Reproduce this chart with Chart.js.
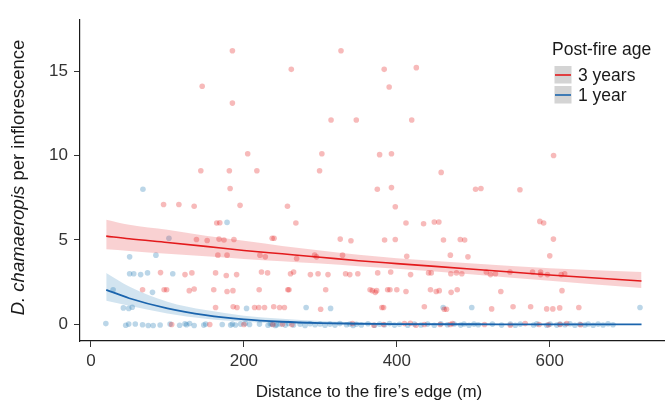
<!DOCTYPE html>
<html>
<head>
<meta charset="utf-8">
<script src="https://cdn.jsdelivr.net/npm/chart.js@4"></script>
<style>
html,body{margin:0;padding:0;background:#fff;}
#wrap{width:668px;height:404px;position:relative;}
</style>
</head>
<body>
<div id="wrap"><canvas id="c" width="668" height="404"></canvas></div>
<script>
// ---- data ----
const xTicks = [0, 200, 400, 600];
const yTicks = [0, 5, 10, 15];
const legendTitle = "Post-fire age";
const seriesNames = ["3 years", "1 year"];

// observations: [distance, count]
const threeYearPts = [
  [185,16.2],[327,16.2],
  [262,15.1],[383.5,15.1],[425.5,15.2],
  [145.5,14.1],[390,14.05],
  [185,13.1],
  [314,12.1],[347,12.1],[419.5,12.1],
  [205,10.1],[302,10.1],[377.5,10.05],[393,10.1],[605,10.0],
  [143.7,9.1],[181,9.1],[217,9.1],[299,9.1],[458,9.0],
  [182,8.05],[374.5,8.0],[393,8.1],[503,8.0],[510,8.05],[561,7.97],
  [95,7.1],[115,7.1],[135,7.0],[195,7.05],[257,7.0],[398,6.97],
  [164.5,6.0],[168.5,6.02],[268,6.0],[412,6.0],[435,5.96],[449,6.06],[455,6.06],[587,6.1],[592,6.0],
  [138,5.03],[152,4.97],[167.5,5.05],[174,5.0],[187,5.03],[237,5.1],[239.5,5.1],[326,5.05],[340,4.95],
  [384,5.0],[398,5.03],[461,5.0],[483,5.03],[488.7,5.0],[604.8,5.05],
  [166,4.1],[178,4.1],[221,4.1],[228,4.0],[269,3.9],[292.6,4.1],[295,4.0],[329,4.1],[413,4.04],[470,4.1],[493,4.0],[600,4.06],
  [91,3.07],[123,2.95],[132,3.05],[163,3.05],[177,2.9],[190.5,2.95],[223,3.1],[231,3.05],[261,3.0],[265,3.1],
  [287,2.95],[297,3.0],[310,2.95],[333,3.0],[338.5,2.95],[349,3.0],[375,3.05],[392,3.1],[418,2.95],[441.5,3.05],
  [445,3.05],[470.6,3.0],[478,3.05],[485,3.0],[517,3.1],[522.5,2.95],[529,3.0],[548,3.1],[577.5,3.1],[588,3.1],
  [588,2.95],[597,2.95],[615,2.95],[619.5,3.0],
  [67.5,2.05],[95.7,2.05],[99,2.05],[128.6,2.0],[135,2.1],[160.6,2.05],[178,1.95],[185.7,2.0],[220,2.05],[257.5,2.05],
  [259,2.05],[307,2.05],[365,2.05],[368,2.0],[371.8,1.9],[373.6,2.0],[388,2.05],[391,2.05],[400,2.05],[412,1.95],
  [444,2.05],[451.5,1.95],[455.5,2.0],[471,1.9],[479,2.05],[536,1.95],[616,2.0],
  [163,1.0],[186,1.05],[191,1.0],[214,1.0],[219.5,1.0],[227,1.0],[239,1.05],[246.7,1.0],[253,1.0],[300.4,0.9],
  [380.5,1.0],[382.7,1.0],[436,1.05],[462,0.9],[465,0.9],[524,0.92],[552,1.05],[575,1.05],[596,0.92],[604,0.92],
  [613,0.98],[638,1.0],
  [105.6,0.0],[155.4,0.0],[200,0.0],[238,0.0],[250.6,0.02],[262.8,0.0],[342,0.05],[370,-0.05],[382.7,0.0],[410,0.05],
  [417.8,0.07],[425,-0.05],[436,0.0],[456.7,0.0],[469.7,0.0],[472.7,0.05],[514.7,0.0],[548.4,-0.05],[567.9,0.05],
  [586.1,0.0],[598.3,-0.02],[613.4,0.0],[622.1,0.05],[640.3,-0.02]
];

const oneYearPts = [
  [68,8.0],[178,6.04],[102,5.1],[50.6,4.0],[85,4.1],
  [50.6,3.0],[56,3.0],[65,2.95],[74,3.05],[107,3.0],
  [29,2.05],[80.5,1.9],
  [42.4,0.98],[49.4,0.95],[54,1.02],[203.5,0.95],[281.4,1.0],[313.4,0.95],[460.6,1.0],[498,1.0],[718,1.0],
  [19.5,0.05],[45.5,-0.05],[49.4,0.02],[58,0.03],[67.5,-0.02],[75,-0.06],[81.4,-0.06],[90.5,-0.03],[103.5,0.02],
  [116,-0.05],[123,0.04],[125,-0.02],[129,0.05],[135,-0.06],[147.6,-0.04],[150,0.03],[171.7,0.0],[182.7,-0.04],
  [185,0.03],[189,-0.03],[195.7,0.02],[202,0.05],[207.4,0.0],[220.4,0.02],[231.6,-0.05],[234.6,0.04],[242.9,-0.02],
  [236.8,0.02],[241.2,-0.06],[247.7,0.03],[254.2,-0.04],[258.4,0.05],[264.9,-0.03],[273.6,0.01],[280,-0.06],
  [286.6,0.04],[293.1,-0.02],[299.6,0.03],[306.1,-0.05],[312.6,0.02],[319.1,-0.04],[325.6,0.05],[334.2,-0.02],
  [338.6,0.03],[342.9,-0.06],[347.1,0.01],[353.6,-0.03],[362.3,0.04],[371,-0.05],[377.5,0.02],[384,-0.02],
  [390.5,0.05],[397,-0.04],[403.5,0.01],[414.3,-0.05],[423,0.03],[431.6,-0.03],[440.3,0.02],[449,-0.05],
  [457.5,0.04],[466.2,-0.02],[474.9,0.03],[483.5,-0.04],[487.9,0.03],[494.4,-0.05],[500.9,0.02],[506.5,-0.02],
  [525,0.02],[537,-0.04],[548.4,0.03],[554.9,-0.05],[561.4,0.02],[578.8,-0.03],[583.1,0.04],[596.1,-0.05],
  [600.4,0.02],[609.1,-0.04],[613.4,0.03],[619.9,-0.02],[626.4,0.04],[632.9,-0.05],[639.4,0.01],[645.9,-0.03],
  [650.3,0.03],[656.8,-0.05],[663.2,0.02],[669.7,-0.03],[676.2,0.04],[682.7,-0.02]
];

// fitted curves and confidence bands
const fitX    = [20, 50, 100, 150, 200, 250, 300, 350, 400, 500, 600, 720];
const redFit  = [5.23, 5.07, 4.85, 4.62, 4.38, 4.18, 3.98, 3.77, 3.60, 3.27, 2.93, 2.57];
const redHi   = [6.20, 5.90, 5.60, 5.25, 4.95, 4.65, 4.38, 4.12, 3.92, 3.60, 3.33, 3.10];
const redLo   = [4.45, 4.35, 4.18, 4.03, 3.88, 3.74, 3.60, 3.45, 3.30, 2.96, 2.58, 2.15];
const blueFit = [2.05, 1.55, 0.95, 0.55, 0.30, 0.16, 0.08, 0.04, 0.02, 0.01, 0.00, 0.00];
const blueHi  = [3.05, 2.25, 1.35, 0.85, 0.52, 0.33, 0.20, 0.12, 0.07, 0.03, 0.02, 0.01];
const blueLo  = [1.40, 1.10, 0.65, 0.33, 0.16, 0.07, 0.03, 0.01, 0.00, 0.00, 0.00, 0.00];

// ---- styling ----
const RED = '#e31a1c', BLUE = '#1a64ad';
const FONT = "'Liberation Sans', Arial, Helvetica, sans-serif";
const FS = 17;
const toXY = (xs, ys) => xs.map((x, i) => ({x: x, y: ys[i]}));
const ptsXY = arr => arr.map(p => ({x: p[0], y: p[1]}));

const lineDs = (data, color, w, order) => ({
  type: 'line', data: data, borderColor: color, borderWidth: w, pointRadius: 0,
  fill: false, cubicInterpolationMode: 'monotone', order: order
});
const bandHi = (data, fillColor, target, order) => ({
  type: 'line', data: data, borderWidth: 0, borderColor: 'rgba(0,0,0,0)', pointRadius: 0,
  backgroundColor: fillColor, fill: target, cubicInterpolationMode: 'monotone', order: order
});
const bandLo = (data, order) => ({
  type: 'line', data: data, borderWidth: 0, borderColor: 'rgba(0,0,0,0)', pointRadius: 0,
  fill: false, cubicInterpolationMode: 'monotone', order: order
});

const datasets = [
  lineDs(toXY(fitX, redFit), RED, 1.6, 0),          // 0
  lineDs(toXY(fitX, blueFit), BLUE, 1.8, 0),        // 1
  bandHi(toXY(fitX, redHi), 'rgba(227,26,28,0.2)', 3, 1),   // 2
  bandLo(toXY(fitX, redLo), 1),                      // 3
  bandHi(toXY(fitX, blueHi), 'rgba(31,120,180,0.2)', 5, 1), // 4
  bandLo(toXY(fitX, blueLo), 1),                     // 5
  {type: 'scatter', data: ptsXY(threeYearPts), backgroundColor: 'rgba(227,26,28,0.3)', borderWidth: 0, pointRadius: 2.8, order: 2},
  {type: 'scatter', data: ptsXY(oneYearPts), backgroundColor: 'rgba(31,120,180,0.3)', borderWidth: 0, pointRadius: 2.8, order: 2}
];

const overlay = {
  id: 'overlay',
  afterDraw(chart) {
    const ctx = chart.ctx;
    const ca = chart.chartArea;
    ctx.save();
    // x title
    ctx.fillStyle = '#1a1a1a';
    ctx.font = FS + 'px ' + FONT;
    ctx.textAlign = 'center';
    ctx.textBaseline = 'middle';
    ctx.fillText('Distance to the fire\u2019s edge (m)', 369, 392);
    // y title (mixed italic)
    const YFS = 18.5;
    ctx.save();
    ctx.translate(19, (ca.top + ca.bottom) / 2 - 3);
    ctx.rotate(-Math.PI / 2);
    const p1 = 'D. chamaeropis', p2 = ' per inflorescence';
    ctx.font = 'italic ' + YFS + 'px ' + FONT;
    const w1 = ctx.measureText(p1).width;
    ctx.font = YFS + 'px ' + FONT;
    const w2 = ctx.measureText(p2).width;
    const start = -(w1 + w2) / 2;
    ctx.textAlign = 'left';
    ctx.font = 'italic ' + YFS + 'px ' + FONT;
    ctx.fillText(p1, start, 0);
    ctx.font = YFS + 'px ' + FONT;
    ctx.fillText(p2, start + w1, 0);
    ctx.restore();
    // legend
    ctx.textAlign = 'left';
    ctx.font = '17.5px ' + FONT;
    ctx.fillStyle = '#1a1a1a';
    ctx.fillText(legendTitle, 552, 50);
    const keys = [[RED, 66], [BLUE, 86]];
    keys.forEach((k, i) => {
      ctx.fillStyle = '#d4d4d4';
      ctx.fillRect(554.5, k[1], 17, 17.5);
      ctx.strokeStyle = k[0];
      ctx.lineWidth = 1.6;
      ctx.beginPath();
      ctx.moveTo(555, k[1] + 9);
      ctx.lineTo(571, k[1] + 9);
      ctx.stroke();
      ctx.fillStyle = '#1a1a1a';
      ctx.fillText(seriesNames[i], 578, k[1] + 10);
    });
    ctx.restore();
  }
};

new Chart(document.getElementById('c'), {
  type: 'line',
  data: {datasets: datasets},
  options: {
    responsive: false,
    animation: false,
    devicePixelRatio: 1,
    layout: {padding: {top: 20, right: 0, left: 0, bottom: 0}},
    plugins: {legend: {display: false}, tooltip: {enabled: false}},
    scales: {
      x: {
        type: 'linear', min: -14.3, max: 749.4,
        afterBuildTicks: s => { s.ticks = xTicks.map(v => ({value: v})); },
        afterFit: s => { s.height = 63; },
        grid: {drawOnChartArea: false, drawTicks: true, tickLength: 6, color: '#333', lineWidth: 1},
        border: {display: true, color: '#1a1a1a', width: 1.2},
        ticks: {color: '#333', font: {family: FONT, size: FS}, padding: 4, maxRotation: 0}
      },
      y: {
        type: 'linear', min: -0.98, max: 18.02,
        afterBuildTicks: s => { s.ticks = yTicks.map(v => ({value: v})); },
        afterFit: s => { s.width = 80; },
        grid: {drawOnChartArea: false, drawTicks: true, tickLength: 6, color: '#333', lineWidth: 1},
        border: {display: true, color: '#1a1a1a', width: 1.2},
        ticks: {color: '#333', font: {family: FONT, size: FS}, padding: 6}
      }
    }
  },
  plugins: [overlay]
});
</script>
</body>
</html>
